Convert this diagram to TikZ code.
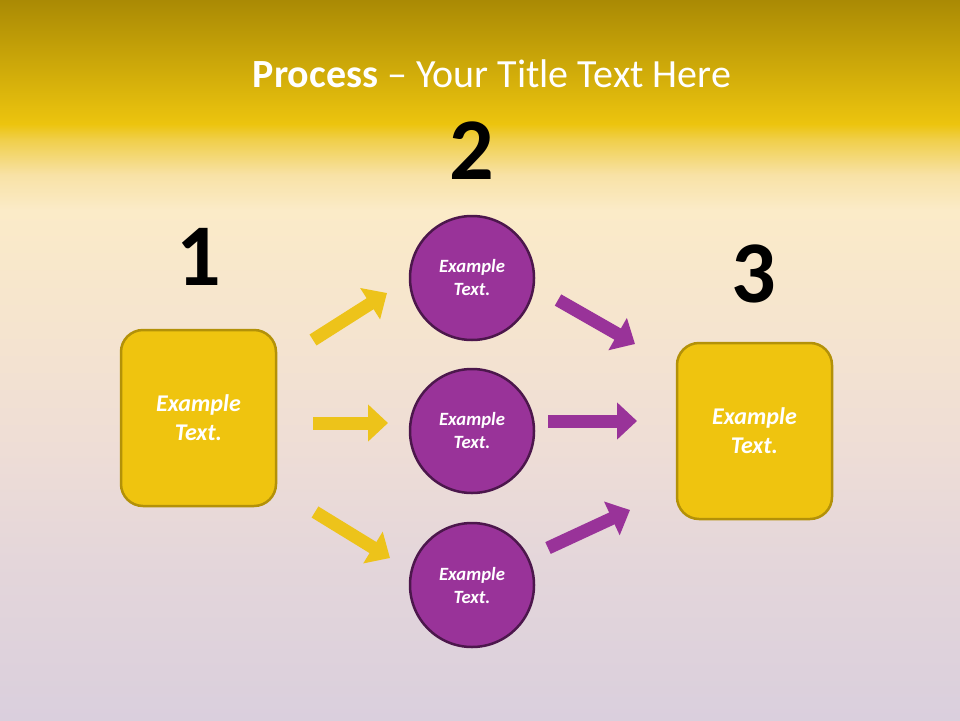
\documentclass[tikz,border=0pt]{standalone}
\usepackage{fontspec}
\setmainfont{Carlito}
\usetikzlibrary{arrows.meta}
\definecolor{boxfill}{HTML}{EFC40F}
\definecolor{boxline}{HTML}{B39108}
\definecolor{circfill}{HTML}{993399}
\definecolor{circline}{HTML}{4C174C}
\definecolor{yarrow}{HTML}{EDC31A}
\definecolor{parrow}{HTML}{993399}
\pgfdeclareverticalshading{bgshade}{100bp}{%
  color(0bp)=(rgb,255:red,218;green,207;blue,221);
  color(25bp)=(rgb,255:red,218;green,207;blue,221);
  color(36.1bp)=(rgb,255:red,228;green,214;blue,218);
  color(43.75bp)=(rgb,255:red,238;green,221;blue,214);
  color(52.1bp)=(rgb,255:red,245;green,228;blue,207);
  color(60.4bp)=(rgb,255:red,251;green,235;blue,200);
  color(62.85bp)=(rgb,255:red,248;green,226;blue,166);
  color(65.3bp)=(rgb,255:red,240;green,207;blue,74);
  color(66.4bp)=(rgb,255:red,236;green,196;blue,14);
  color(75bp)=(rgb,255:red,170;green,138;blue,4);
  color(100bp)=(rgb,255:red,170;green,138;blue,4)}
\tikzset{
  stepbox/.style={draw=boxline, line width=2.5pt, fill=boxfill, rounded corners=22pt,
    minimum width=155pt, minimum height=176pt, inner sep=0pt,
    align=center, text=white, font=\fontsize{24pt}{29pt}\selectfont\bfseries\itshape},
  stepcirc/.style={draw=circline, line width=2.5pt, fill=circfill, circle,
    minimum size=124pt, inner sep=0pt,
    align=center, text=white, font=\fontsize{18.7pt}{23pt}\selectfont\bfseries\itshape},
  stepnum/.style={anchor=base, inner sep=0pt, text=black, font=\fontsize{88pt}{90pt}\selectfont\bfseries},
  blockarrow/.style={line width=13pt, -{Triangle[width=36pt,length=20pt]}},
  yarr/.style={blockarrow, draw=yarrow},
  parr/.style={blockarrow, draw=parrow},
}
\begin{document}
\begin{tikzpicture}[x=1pt,y=-1pt]
\useasboundingbox (0,0) rectangle (960,720);
% background
\shade[shading=bgshade] (0,0) rectangle (960,720);
% title
\node[anchor=base, text=white, font=\fontsize{40pt}{44pt}\selectfont, inner sep=0pt] (title) at (492,87) {\textbf{Process} – Your Title Text Here};
% numbers
\node[stepnum] (n1) at (199,285) {1};
\node[stepnum] (n2) at (472,179) {2};
\node[stepnum] (n3) at (754,302) {3};
% shapes
\node[stepbox] (b1) at (198.5,418) {Example\\Text.};
\node[stepbox] (b3) at (754.5,431) {Example\\Text.};
\node[stepcirc] (c1) at (472,278) {Example\\Text.};
\node[stepcirc] (c2) at (472,431) {Example\\Text.};
\node[stepcirc] (c3) at (472,585) {Example\\Text.};
% arrow end points
\coordinate (ya1) at (313,340); \coordinate (yb1) at (387,293);
\coordinate (ya2) at (313,423); \coordinate (yb2) at (388,423);
\coordinate (ya3) at (315,512); \coordinate (yb3) at (390,558);
\coordinate (pa1) at (558,300); \coordinate (pb1) at (635,344);
\coordinate (pa2) at (548,421); \coordinate (pb2) at (637,421);
\coordinate (pa3) at (548,548); \coordinate (pb3) at (630,510);
\draw[yarr] (ya1) -- (yb1);
\draw[yarr] (ya2) -- (yb2);
\draw[yarr] (ya3) -- (yb3);
\draw[parr] (pa1) -- (pb1);
\draw[parr] (pa2) -- (pb2);
\draw[parr] (pa3) -- (pb3);
\end{tikzpicture}
\end{document}
